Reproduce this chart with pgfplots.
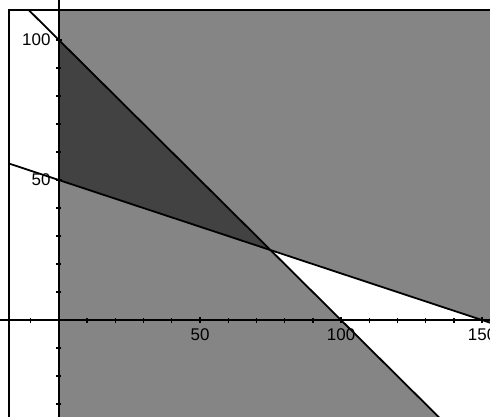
\documentclass[border=0pt]{standalone}
\usepackage{fontspec}
\setmainfont{Liberation Sans}
\usepackage{pgfplots}
\pgfplotsset{compat=1.18}
\colorlet{lightshade}{black!48}
\colorlet{darkshade}{black!74}

\begin{document}
\begin{tikzpicture}
\begin{axis}[
  scale only axis, width=490bp, height=417bp,
  xmin=-20.9, xmax=152.8, ymin=-34.6, ymax=114.3,
  axis lines=middle, axis line style={-, line width=1.8pt},
  xtick={50,100,150}, ytick={50,100},
  minor xtick={-10,10,20,30,40,60,70,80,90,110,120,130,140},
  minor ytick={-30,-20,-10,10,20,30,40,60,70,80,90},
  tick align=center, major tick length=6pt, minor tick length=5pt,
  tick style={black, line width=1.4pt},
  /pgf/number format/assume math mode=true,
  ticklabel style={font=\fontsize{17}{19}\selectfont},
  xticklabel style={anchor=north, yshift=-2pt},
  yticklabel style={anchor=east, xshift=-2pt},
  axis on top, clip=true,
]
% x >= 0 shaded
\addplot[fill=lightshade, draw=none] coordinates {(0,-34.6) (152.8,-34.6) (152.8,110.7) (0,110.7)} -- cycle;
% region x+y>=100 and x+3y<=150 left white
\addplot[fill=white, draw=none] coordinates {(75,25) (152.8,-0.93) (152.8,-34.6) (134.6,-34.6)} -- cycle;
% overlap x+y<=100 and x+3y>=150
\addplot[fill=darkshade, draw=none] coordinates {(0,100) (0,50) (75,25)} -- cycle;
% constraint lines
\addplot[black, line width=1.8pt] coordinates {(-10.7,110.7) (140,-40)};
\addplot[black, line width=1.8pt] coordinates {(-17.7,55.9) (152.8,-0.93)};
% frame (left and top)
\addplot[black, line width=2pt] coordinates {(-17.7,-40) (-17.7,110.7) (160,110.7)};
\end{axis}
\pgfresetboundingbox
\path (current axis.south west) rectangle (current axis.north east);
\end{tikzpicture}
\end{document}
